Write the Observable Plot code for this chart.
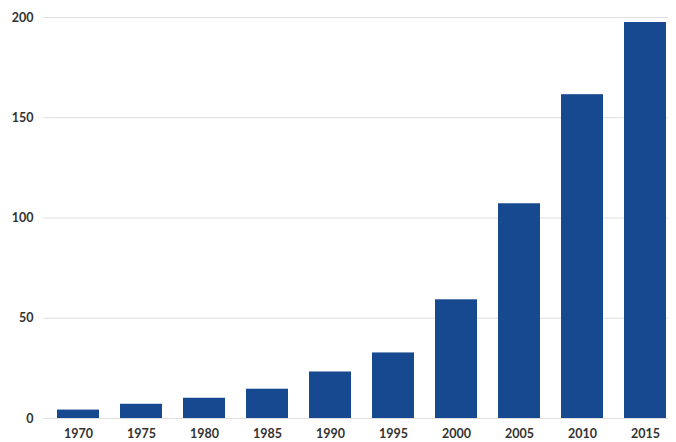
<!DOCTYPE html>
<html>
<head>
<meta charset="utf-8">
<script src="https://cdn.jsdelivr.net/npm/d3@7"></script>
<script src="https://cdn.jsdelivr.net/npm/@observablehq/plot@0.6"></script>
<style>
  html, body { margin: 0; padding: 0; background: #fff; }
  #chart svg { display: block; }
</style>
</head>
<body>
<div id="chart"></div>
<script>
const years = ["1970", "1975", "1980", "1985", "1990", "1995", "2000", "2005", "2010", "2015"];
const values = [4.2, 7.1, 10.1, 14.6, 23.2, 32.7, 59.2, 107.1, 161.5, 197.5];
const yTicks = [0, 50, 100, 150, 200];

const data = years.map((y, i) => ({year: y, value: values[i]}));

const chart = Plot.plot({
  width: 676,
  height: 442,
  marginTop: 17,
  marginBottom: 24,
  marginLeft: 45,
  marginRight: 0,
  style: {fontFamily: "Lato, 'Open Sans', sans-serif", fontSize: "12px", color: "#333", background: "#fff"},
  x: {domain: years, range: [45.5, 677.5], paddingInner: 0.33, paddingOuter: 0.165, label: null},
  y: {domain: [0, 200], ticks: yTicks, label: null},
  marks: [
    Plot.ruleY(yTicks, {stroke: "#dedede", strokeWidth: 1, insetLeft: -2, insetRight: 8}),
    Plot.barY(data, {x: "year", y: "value", fill: "#16498f"}),
    Plot.axisX({tickSize: 0, tickPadding: 11, fontWeight: "bold", fontSize: 12.5}),
    Plot.axisY({ticks: yTicks, tickSize: 0, tickPadding: 12, fontWeight: "bold", fontSize: 12.5, label: null})
  ]
});
document.getElementById("chart").appendChild(chart);
</script>
</body>
</html>
